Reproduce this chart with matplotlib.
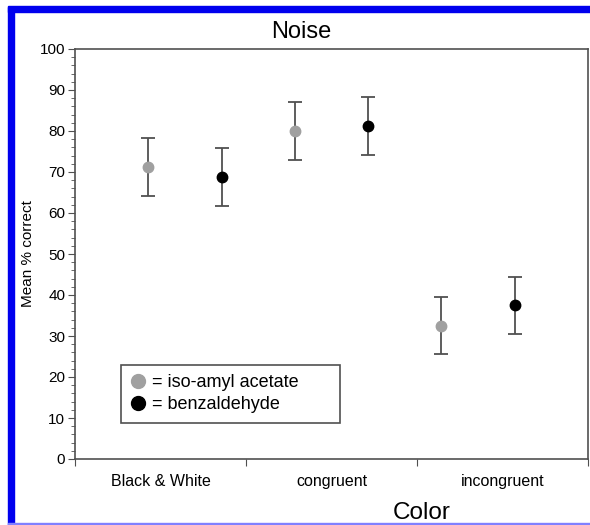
import matplotlib.pyplot as plt
from matplotlib.lines import Line2D
from matplotlib.patches import Rectangle
import numpy as np

plt.rcParams['font.family'] = ['Liberation Sans', 'DejaVu Sans']

# mean % correct per condition, with error bar half-widths
categories = ["Black & White", "congruent", "incongruent"]
iso_amyl_mean = [71.2, 80.0, 32.5]
iso_amyl_err = [7.0, 7.0, 7.0]
benzal_mean = [68.8, 81.2, 37.5]
benzal_err = [7.0, 7.0, 7.0]

gray = "#a0a0a0"
edge = "#505050"

fig = plt.figure(figsize=(5.9, 5.25), dpi=100)
ax = fig.add_axes([75 / 590, 66 / 525, 513 / 590, 410 / 525])

# points sit evenly spaced: gray then black inside each condition
x_iso = np.arange(len(categories)) * 2 + 1
x_ben = x_iso + 1

ax.errorbar(x_iso, iso_amyl_mean, yerr=iso_amyl_err, fmt='o', color=gray,
            ms=7.5, ecolor=edge, elinewidth=1.3, capsize=5, capthick=1.3, zorder=3)
ax.errorbar(x_ben, benzal_mean, yerr=benzal_err, fmt='o', color='black',
            ms=7.5, ecolor=edge, elinewidth=1.3, capsize=5, capthick=1.3, zorder=3)

ax.set_xlim(0, 7)
ax.set_ylim(0, 100)
ax.set_yticks(np.arange(0, 101, 10))
ax.set_yticks(np.arange(0, 101, 2), minor=True)
ax.tick_params(axis='y', which='major', length=5, color=edge, labelsize=11, pad=2)
ax.tick_params(axis='y', which='minor', length=3, color=edge)

# category boundaries as ticks, labels centred in each block
bounds = np.linspace(0, 7, len(categories) + 1)
ax.set_xticks(bounds)
ax.set_xticklabels([])
ax.set_xticks((bounds[:-1] + bounds[1:]) / 2, minor=True)
ax.set_xticklabels(categories, minor=True)
ax.tick_params(axis='x', which='major', length=5, color=edge)
ax.tick_params(axis='x', which='minor', length=0, labelsize=11.5, pad=11)

for s in ax.spines.values():
    s.set_color(edge)
    s.set_linewidth(1.2)

ax.set_title("Noise", fontsize=17, pad=8, x=0.442)
ax.set_xlabel("Color", fontsize=17.5)
ax.xaxis.set_label_coords(0.676, -0.105)
ax.set_ylabel("Mean % correct", fontsize=11)
ax.yaxis.set_label_coords(-0.078, 0.5)

handles = [Line2D([], [], marker='o', ls='none', color=gray, ms=10),
           Line2D([], [], marker='o', ls='none', color='black', ms=10)]
leg = ax.legend(handles, ["= iso-amyl acetate", "= benzaldehyde"],
                loc='lower left', bbox_to_anchor=(0.09, 0.088, 0.427, 0.175),
                mode='expand', borderaxespad=0, fontsize=13, handlelength=0.8,
                handletextpad=0.35, borderpad=0.55, labelspacing=0.25,
                fancybox=False, framealpha=1)
leg.get_frame().set_edgecolor(edge)
leg.get_frame().set_linewidth(1.2)

# blue frame around the figure
fig.patches.append(Rectangle((8 / 590, 513 / 525), 582 / 590, 5.5 / 525, transform=fig.transFigure,
                             color='#0000ee', zorder=10))
fig.patches.append(Rectangle((8 / 590, 0), 5.5 / 590, 518 / 525, transform=fig.transFigure,
                             color='#0000ee', zorder=10))
fig.patches.append(Rectangle((8 / 590, 0.5 / 525), 582 / 590, 1.2 / 525, transform=fig.transFigure,
                             color='#8080ff', zorder=10))

fig.savefig("out.png", dpi=100)
